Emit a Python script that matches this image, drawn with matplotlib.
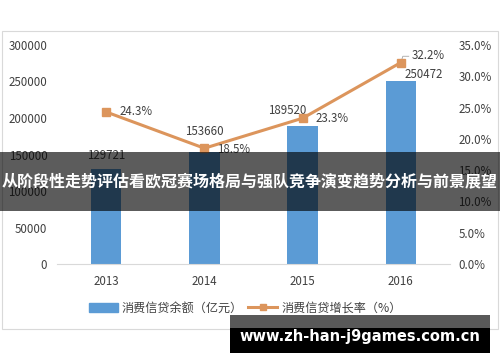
import matplotlib.pyplot as plt
from matplotlib.patches import Rectangle, Patch
from matplotlib.lines import Line2D

plt.rcParams['font.family'] = ['Noto Sans CJK SC', 'DejaVu Sans']

years = ['2013', '2014', '2015', '2016']
balance = [129721, 153660, 189520, 250472]      # 消费信贷余额（亿元）
growth = [24.3, 18.5, 23.3, 32.2]                # 消费信贷增长率（%）
left_ticks = [0, 50000, 100000, 150000, 200000, 250000, 300000]
right_ticks = [0, 5, 10, 15, 20, 25, 30, 35]

bar_color = '#5B9BD5'
line_color = '#DC955C'
txt = '#404040'

fig = plt.figure(figsize=(5, 3.62), dpi=100)
ax = fig.add_axes([0.114, 0.2707, 0.786, 0.605])
ax2 = ax.twinx()

x = range(len(years))
ax.bar(x, balance, width=0.31, color=bar_color, zorder=2)
ax.set_xlim(-0.5, 3.5)
ax.set_ylim(0, 300000)
ax.set_yticks(left_ticks)
ax.set_xticks(list(x))
ax.set_xticklabels(years)

ax2.plot(x, growth, color=line_color, lw=2.2, marker='s', ms=6, zorder=3)
ax2.set_ylim(0, 35)
ax2.set_yticks(right_ticks)
ax2.set_yticklabels(['%.1f%%' % v for v in right_ticks])

for a in (ax, ax2):
    for s in a.spines.values():
        s.set_visible(False)
    a.tick_params(length=0, labelsize=8.3, labelcolor=txt)
ax.spines['bottom'].set_visible(True)
ax.spines['bottom'].set_color('#d9d9d9')
ax.tick_params(axis='y', pad=7)
ax.tick_params(axis='x', pad=8)
ax2.tick_params(axis='y', pad=6)

# bar value labels (offsets of label centre, points)
bar_off = [(0, 10.3), (0, 14.5), (-10.8, 11.2), (16.5, 4.8)]
for i, v in enumerate(balance):
    ax.annotate(str(v), (i, v), xytext=bar_off[i], textcoords='offset points',
                ha='center', va='center', fontsize=8.3, color=txt)

# line value labels
line_off = [(9.4, 0), (9.4, -0.7), (9.4, -0.5), (8, 5.4)]
for i, v in enumerate(growth):
    ax2.annotate('%.1f%%' % v, (i, v), xytext=line_off[i], textcoords='offset points',
                 ha='left', va='center', fontsize=8.3, color=txt)
ax2.plot([3, 3.02, 3.08], [32.2, 33.2, 33.2], color='#a6a6a6', lw=0.6, zorder=2)

# legend
handles = [Patch(color=bar_color),
           Line2D([], [], color=line_color, lw=2.2, marker='s', ms=5)]
fig.legend(handles, ['消费信贷余额（亿元）', '消费信贷增长率（%）'], loc='center',
           bbox_to_anchor=(0.49, 0.149), ncol=2, frameon=False, fontsize=8.7,
           handlelength=2.4, columnspacing=0.5, handletextpad=0.3, labelcolor=txt)

# chart frame
fig.add_artist(Rectangle((0.004, 1 - 329 / 362), 0.992, 298 / 362, transform=fig.transFigure,
                         fill=False, edgecolor='#d9d9d9', lw=0.8, zorder=1))

# overlay banner
fig.add_artist(Rectangle((0, 1 - 211 / 362), 1, 59 / 362, transform=fig.transFigure,
                         facecolor='black', alpha=0.64, edgecolor='none', zorder=10))
fig.text(0.5, 1 - 181 / 362, '从阶段性走势评估看欧冠赛场格局与强队竞争演变趋势分析与前景展望',
         ha='center', va='center', color='white', fontsize=11.5, fontweight='bold', zorder=11)

# watermark
fig.add_artist(Rectangle((230 / 500, 1 - 328 / 362), 260 / 500, 13 / 362, transform=fig.transFigure,
                         facecolor='#595959', edgecolor='none', zorder=10))
fig.add_artist(Rectangle((230 / 500, 1 - 353 / 362), 260 / 500, 25 / 362, transform=fig.transFigure,
                         facecolor='black', edgecolor='none', zorder=10))
fig.text(360 / 500, 1 - 337 / 362, 'www.zh-han-j9games.com.cn', ha='center', va='center',
         color='white', fontsize=10.5, fontweight='bold', family='DejaVu Sans', zorder=11)

fig.savefig('out.png', dpi=100)
